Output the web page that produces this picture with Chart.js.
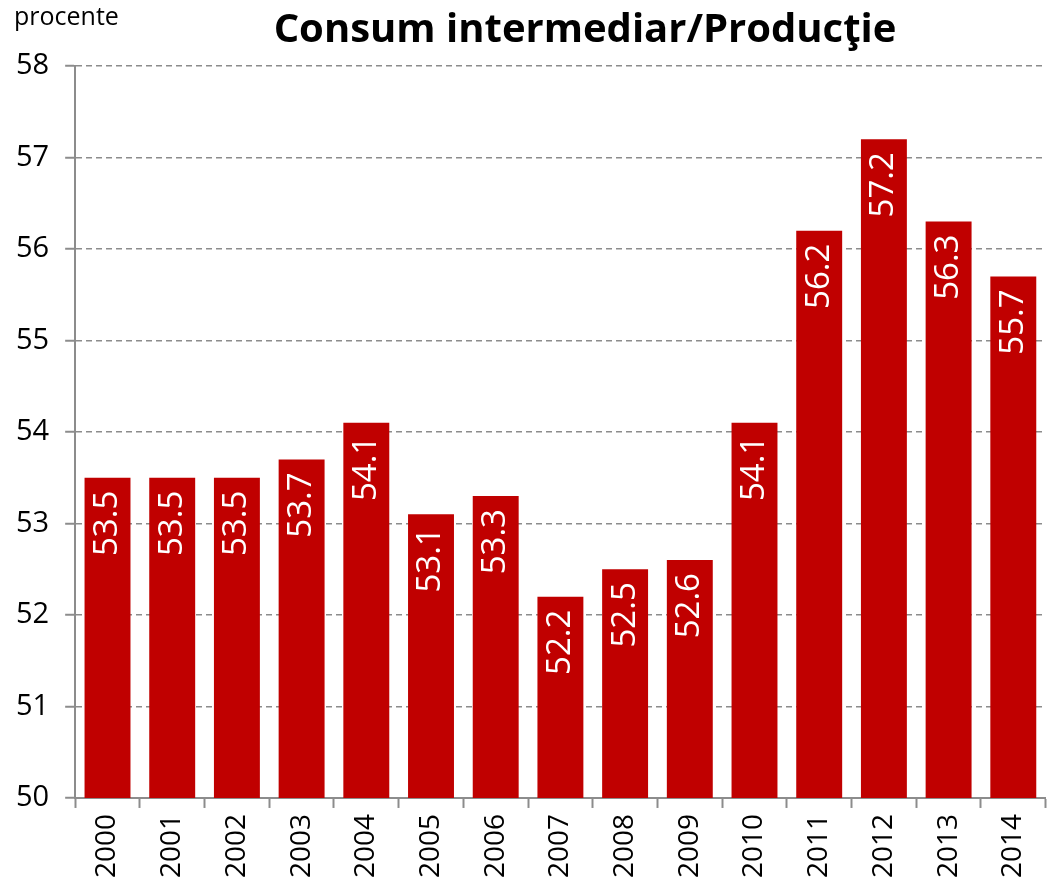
<!DOCTYPE html>
<html>
<head>
<meta charset="utf-8">
<script src="https://cdn.jsdelivr.net/npm/chart.js@4.4.1/dist/chart.umd.min.js"></script>
<style>
    html, body { margin: 0; padding: 0; background: #fff; }
    #wrap { width: 1053px; height: 884px; }
</style>
</head>
<body>
<div id="wrap"><canvas id="grafic"></canvas></div>
<script>
// Date
const ani = ["2000", "2001", "2002", "2003", "2004", "2005", "2006", "2007",
             "2008", "2009", "2010", "2011", "2012", "2013", "2014"];
const valori = [53.5, 53.5, 53.5, 53.7, 54.1, 53.1, 53.3, 52.2,
                52.5, 52.6, 54.1, 56.2, 57.2, 56.3, 55.7];
const axaY = [50, 51, 52, 53, 54, 55, 56, 57, 58];

const titlu = "Consum intermediar/Producţie";
const unitate = "procente";
const font = "'Open Sans', sans-serif";

// etichete albe, rotite, in interiorul barelor
const eticheteBare = {
    id: 'eticheteBare',
    afterDatasetsDraw(chart) {
        const ctx = chart.ctx;
        const meta = chart.getDatasetMeta(0);
        ctx.save();
        ctx.fillStyle = '#ffffff';
        ctx.font = "33px " + font;
        ctx.textAlign = 'right';
        ctx.textBaseline = 'middle';
        meta.data.forEach((bar, i) => {
            ctx.save();
            ctx.translate(bar.x, bar.y);
            ctx.rotate(-Math.PI / 2);
            ctx.fillText(valori[i].toFixed(1), -13, 0);
            ctx.restore();
        });
        ctx.restore();
    }
};

// titlu si unitate de masura
const texte = {
    id: 'texte',
    afterDraw(chart) {
        const ctx = chart.ctx;
        ctx.save();
        ctx.fillStyle = '#000';
        ctx.textBaseline = 'middle';
        ctx.textAlign = 'center';
        ctx.font = "bold 40px " + font;
        ctx.fillText(titlu, 585, 31);
        ctx.textAlign = 'left';
        ctx.font = "25px " + font;
        ctx.fillText(unitate, 14, 18);
        ctx.restore();
    }
};

new Chart(document.getElementById('grafic'), {
    type: 'bar',
    data: {
        labels: ani,
        datasets: [{
            data: valori,
            backgroundColor: '#c00000',
            borderWidth: 0,
            barPercentage: 0.71,
            categoryPercentage: 1
        }]
    },
    options: {
        responsive: true,
        maintainAspectRatio: false,
        animation: false,
        layout: { padding: { top: 66, right: 3, left: 0, bottom: 0 } },
        plugins: {
            legend: { display: false },
            tooltip: { enabled: false }
        },
        scales: {
            x: {
                grid: {
                    offset: true,
                    drawOnChartArea: false,
                    drawTicks: true,
                    tickLength: 10,
                    tickColor: '#8c8c8c',
                    tickWidth: 2
                },
                border: { color: '#8c8c8c', width: 2 },
                ticks: {
                    color: '#000',
                    font: { family: font, size: 28 },
                    minRotation: 90,
                    maxRotation: 90,
                    padding: 6
                }
            },
            y: {
                min: axaY[0],
                max: axaY[axaY.length - 1],
                afterBuildTicks: (axis) => {
                    axis.ticks = axaY.map(v => ({ value: v }));
                },
                grid: {
                    color: '#8c8c8c',
                    lineWidth: 1.5,
                    tickLength: 10,
                    tickColor: '#8c8c8c',
                    tickWidth: 2,
                    tickBorderDash: [1, 0]
                },
                border: { color: '#8c8c8c', width: 2, dash: [6, 4] },
                ticks: {
                    color: '#000',
                    font: { family: font, size: 29 },
                    padding: 16
                }
            }
        }
    },
    plugins: [eticheteBare, texte]
});
</script>
</body>
</html>
